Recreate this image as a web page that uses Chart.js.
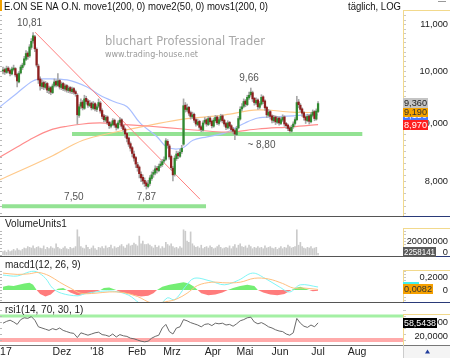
<!DOCTYPE html>
<html><head><meta charset="utf-8">
<script src="https://cdn.jsdelivr.net/npm/chart.js@4.4.0/dist/chart.umd.min.js"></script>
<style>html,body{margin:0;padding:0;background:#fff}canvas{display:block}</style>
</head><body>
<canvas id="c" width="450" height="358"></canvas>
<script>
// ---------------- DATA ----------------
const monthLabels = ["'17","Dez","'18","Feb","Mrz","Apr","Mai","Jun","Jul","Aug"];
const monthIdx    = [1.1, 33.3, 53.1, 75.7, 95.5, 118.6, 136.7, 156.5, 178, 200];

const opens = [10.00,10.03,9.97,10.06,10.01,9.94,10.03,10.05,9.93,9.78,9.96,10.07,10.13,10.24,10.37,10.31,10.49,10.63,10.72,10.45,
10.10,9.84,9.69,9.77,9.67,9.75,9.61,9.67,9.57,9.71,9.79,9.71,9.81,9.67,9.75,9.64,9.71,9.61,9.67,9.59,
9.65,9.59,9.52,9.14,9.31,9.39,9.27,9.46,9.41,9.32,9.37,9.27,9.36,9.25,9.31,9.37,9.23,9.13,9.05,9.11,
9.01,8.94,8.97,9.05,8.97,8.91,9.01,9.06,8.95,8.89,8.81,8.73,8.63,8.56,8.45,8.39,8.27,8.23,8.11,8.06,
8.01,7.97,7.91,7.96,8.04,8.11,8.13,8.21,8.17,8.25,8.27,8.33,8.36,8.67,8.59,8.41,8.21,8.11,8.37,8.46,
8.41,8.49,8.62,9.33,9.24,9.29,9.19,9.11,9.16,9.06,8.97,9.03,8.93,8.87,9.01,9.06,8.97,9.09,9.03,8.94,
9.04,9.11,8.99,9.05,9.13,9.05,8.99,8.91,9.01,8.95,8.89,8.86,8.79,8.91,9.07,9.26,9.31,9.41,9.34,9.47,
9.53,9.57,9.46,9.37,9.43,9.29,9.35,9.49,9.41,9.29,9.14,9.21,9.13,9.04,9.11,9.01,9.09,8.99,9.05,9.11,
8.99,8.96,8.91,8.85,8.93,8.99,9.06,9.39,9.33,9.26,9.19,9.11,9.04,9.13,9.02,9.14,9.21,9.07,9.21];
const highs = [10.08,10.06,10.10,10.09,10.04,10.08,10.12,10.07,9.96,9.99,10.12,10.16,10.30,10.42,10.40,10.55,10.68,10.81,10.75,10.48,
10.14,9.88,9.82,9.80,9.79,9.77,9.70,9.69,9.74,9.84,9.82,9.95,9.83,9.78,9.77,9.74,9.73,9.70,9.69,9.68,
9.67,9.62,9.55,9.34,9.45,9.42,9.52,9.50,9.44,9.42,9.39,9.40,9.38,9.34,9.45,9.40,9.26,9.16,9.14,9.13,
9.03,9.02,9.08,9.07,8.99,9.04,9.10,9.08,8.97,8.91,8.83,8.75,8.66,8.58,8.50,8.41,8.31,8.25,8.15,8.10,
8.05,8.00,8.01,8.09,8.15,8.18,8.25,8.24,8.28,8.33,8.36,8.40,8.72,8.70,8.62,8.43,8.24,8.42,8.50,8.49,
8.53,8.60,9.45,9.38,9.35,9.31,9.22,9.20,9.18,9.08,9.07,9.05,8.95,9.04,9.10,9.08,9.12,9.11,9.05,9.09,
9.14,9.13,9.10,9.16,9.15,9.07,9.01,9.04,9.03,8.97,8.92,8.88,8.94,9.12,9.30,9.36,9.45,9.44,9.52,9.58,
9.66,9.60,9.48,9.47,9.45,9.40,9.53,9.51,9.43,9.31,9.25,9.23,9.15,9.14,9.13,9.12,9.11,9.10,9.15,9.13,
9.01,8.98,8.93,8.96,9.02,9.10,9.50,9.44,9.36,9.28,9.21,9.13,9.16,9.15,9.19,9.24,9.23,9.26,9.40];
const lows = [9.94,9.93,9.95,9.96,9.90,9.92,10.00,9.88,9.68,9.76,9.94,10.03,10.10,10.21,10.24,10.28,10.45,10.58,10.40,10.08,
9.75,9.62,9.65,9.63,9.64,9.57,9.55,9.53,9.55,9.68,9.68,9.69,9.64,9.63,9.61,9.60,9.58,9.57,9.56,9.55,
9.54,9.50,8.98,9.10,9.27,9.24,9.25,9.35,9.29,9.30,9.24,9.25,9.22,9.21,9.28,9.18,9.08,9.02,9.02,8.97,
8.90,8.91,8.95,8.92,8.87,8.89,8.98,8.90,8.84,8.74,8.66,8.58,8.50,8.40,8.33,8.22,8.16,8.05,7.99,7.95,
7.91,7.87,7.89,7.93,8.01,8.06,8.10,8.13,8.15,8.22,8.24,8.30,8.34,8.55,8.36,8.18,8.00,8.08,8.34,8.37,
8.39,8.46,8.60,9.20,9.21,9.14,9.07,9.08,9.01,8.94,8.95,8.88,8.84,8.85,8.98,8.94,8.95,8.98,8.91,8.92,
9.01,8.97,8.96,9.02,9.00,8.94,8.88,8.89,8.90,8.84,8.80,8.70,8.77,8.89,9.05,9.22,9.28,9.30,9.32,9.44,
9.50,9.40,9.33,9.34,9.25,9.26,9.33,9.36,9.23,9.10,9.11,9.07,9.00,9.01,8.97,8.99,8.96,8.97,9.02,8.94,
8.90,8.86,8.82,8.83,8.90,8.96,9.04,9.28,9.20,9.12,9.05,8.99,9.02,8.98,9.00,9.11,9.04,9.05,9.19];
const closes = [10.02,9.98,10.05,10.00,9.95,10.04,10.06,9.92,9.80,9.95,10.08,10.12,10.25,10.36,10.30,10.50,10.62,10.74,10.46,10.12,
9.82,9.70,9.76,9.68,9.74,9.62,9.66,9.58,9.70,9.78,9.72,9.80,9.68,9.74,9.65,9.70,9.62,9.66,9.60,9.64,
9.58,9.55,9.15,9.30,9.38,9.28,9.45,9.40,9.33,9.36,9.28,9.35,9.26,9.30,9.38,9.22,9.12,9.06,9.10,9.00,
8.95,8.98,9.04,8.96,8.92,9.00,9.05,8.94,8.88,8.80,8.72,8.62,8.55,8.46,8.38,8.28,8.22,8.12,8.05,8.00,
7.96,7.92,7.95,8.05,8.10,8.14,8.20,8.18,8.24,8.28,8.32,8.35,8.68,8.60,8.40,8.22,8.10,8.38,8.45,8.42,
8.48,8.55,9.32,9.25,9.28,9.18,9.12,9.15,9.05,8.98,9.02,8.92,8.88,9.00,9.05,8.98,9.08,9.02,8.95,9.05,
9.10,9.00,9.06,9.12,9.04,8.98,8.92,9.00,8.94,8.88,8.85,8.80,8.90,9.08,9.25,9.30,9.40,9.35,9.48,9.52,
9.58,9.45,9.38,9.42,9.30,9.36,9.48,9.40,9.28,9.15,9.20,9.12,9.05,9.10,9.02,9.08,9.00,9.06,9.10,8.98,
8.95,8.90,8.86,8.92,8.98,9.06,9.38,9.34,9.25,9.18,9.10,9.05,9.12,9.03,9.15,9.20,9.08,9.22,9.36];
// volume in millions of units
const volumes = [5,6,4,7,5,6,8,6,9,7,6, 8,10,9,12,11,10,13,9,11,12, 10,9,13,8,11,9,12,10,9,16,
11,9,8,10,12,9,8,11,9,10,12, 36,26, 12,10,9,14,11,8,10,13,9,7,11,10,
12,9,13,10,11,14,9,12,10,11,13,15,12,10,14,16,13, 14,17,15,13,27,16,20,15,15,16,14,
12,10,14,11,13,9,12,10,18,15,13,16,12,10,11,9,12,10, 36,34,20,18,33,16,
13,11,12,10,14,9,11,12,10,13,11,9,10,12,14,11,9,10, 11,10,13,9,12,15,10,14,16,12,11,13,10,14,12,
9,11,10,12,10,11,9,13,10,11,12,10,9,11,8,10,12,9,11,10,14,12,10,11, 12,36,
14,18,12,10,9,11,10,12,9,10,11, 2.258141];
// moving averages [day index, value]
const move1 = [[-1.7,8.40],[8,8.57],[16.9,8.73],[26.6,8.87],[36.2,8.94],[45.2,8.98],[54.8,9.00],[64.4,8.98],[83.1,8.94],[101.7,8.89],[120.9,8.84],[130,8.84],[144.1,8.89],[163.3,8.93],[178,8.97]];
const move2 = [[-1.7,9.30],[7.9,9.56],[16.9,9.80],[22.6,9.84],[36.2,9.82],[47.5,9.68],[54.8,9.52],[63.3,9.39],[70.1,9.30],[77.4,9.00],[87,8.75],[92.7,8.57],[101.1,8.55],[107.3,8.69],[115.3,8.75],[125.4,8.82],[136.7,9.00],[144.1,9.09],[153.7,9.11],[172.3,9.15],[178,9.15]];
const movs1 = [[-1.7,8.02],[26.6,8.40],[45.2,8.69],[64.4,8.84],[83.1,8.96],[101.7,9.07],[120.9,9.13],[125.4,9.15],[144.1,9.24],[163.3,9.20],[178,9.19]];
// drawn trend line and support levels
const trendLine = [[18.1,10.82],[111.3,7.71]];
const support1 = [[39,8.80],[203,8.80]];
const support2 = [[-0.6,7.60],[114.7,7.60]];
const priceNotes = [["10,81",15,10.81],["9,66",139,9.66],["7,50",40,7.50],["7,87",81,7.50],["~ 8,80",146,8.80]];
const priceTicks = [11,10,9,8];
const priceTickLabels = ["11,000","10,000","9,000","8,000"];
// MACD
const macdLine = [[0,0.23],[8,0.215],[15,0.28],[19,0.28],[24,0.18],[28,0.03],[33,-0.05],[42,-0.09],[46,-0.06],[55,-0.02],[63,-0.02],[71,-0.08],[77,-0.2],[83,-0.28],[89,-0.22],[93,-0.12],[97,-0.15],[103,0.05],[108,0.18],[117,0.14],[125,0.08],[133,0.15],[141,0.26],[148,0.18],[156,0.05],[162,-0.03],[168,0.08],[178,0.046]];
const macdSignal = [[0,0.26],[8,0.24],[15,0.25],[20,0.27],[26,0.22],[32,0.12],[38,0.03],[44,-0.05],[52,-0.05],[60,-0.03],[68,-0.04],[76,-0.10],[84,-0.20],[92,-0.18],[98,-0.14],[104,-0.05],[110,0.07],[118,0.12],[126,0.11],[134,0.12],[142,0.18],[150,0.17],[158,0.10],[164,0.03],[170,0.03],[178,0.0082]];
const macdHist = [[0,0.05],[3,0.07],[6,0.06],[9,0.08],[12,0.10],[15,0.11],[17,0.08],[19,0],[21,-0.06],[24,-0.10],[27,-0.07],[29,-0.02],[31,0.02],[34,0.03],[36,0],[38,-0.04],[42,-0.08],[46,-0.06],[50,-0.05],[53,-0.02],[55,0],[57,0.03],[60,0.04],[62,0.02],[64,0],[66,-0.03],[70,-0.05],[74,-0.08],[78,-0.10],[82,-0.09],[85,-0.05],[87,0],[90,0.05],[94,0.08],[98,0.10],[102,0.12],[105,0.10],[108,0.05],[110,0],[112,-0.05],[116,-0.08],[120,-0.07],[124,-0.04],[127,0],[130,0.03],[134,0.06],[138,0.08],[142,0.06],[144,0],[147,-0.04],[151,-0.07],[155,-0.08],[159,-0.06],[163,0],[165,0.03],[168,0.05],[171,0.02],[173,0],[175,-0.02],[178,-0.01]];
const macdTicks = [0.2, 0];
const macdTickLabels = ["0,2000","0"];
// RSI, one value every second trading day
const rsi = [58,61,63,60,56,64,67,66,69,63,52,50,48,46,49,47,50,46,44,42,41,34,42,40,38,40,42,43,39,38,
36,40,35,39,37,36,33,32,30,28,27,28,33,36,38,50,56,44,40,50,52,64,62,59,57,55,52,56,57,54,
58,57,58,55,56,53,57,62,64,67,68,60,57,59,56,52,50,47,45,44,40,38,42,66,58,53,51,55,52,58.5438];
const rsiLevels = [70, 30];

// ---------------- LAYOUT ----------------
const TOP = 10, BOTTOM = 345, RIGHT = 403;
const PX_PER_DAY = 1.77, X0 = 3;
const XMIN = -X0 / PX_PER_DAY, XMAX = XMIN + RIGHT / PX_PER_DAY;
function logRange(v, y, pxPerLn) { const hi = Math.log(v) + (y - TOP) / pxPerLn; return [Math.exp(hi - (BOTTOM - TOP) / pxPerLn), Math.exp(hi)]; }
function linRange(v1, y1, v2, y2) { const k = (v2 - v1) / (y1 - y2); return [v1 - (BOTTOM - y1) * k, v1 + (y1 - TOP) * k]; }
const PR = logRange(11, 24, 493);
const VR = linRange(0, 255, 20, 241);
const MR = linRange(0, 290, 0.2, 277);
const RR = linRange(30, 340, 70, 316);
const SANS = '"Liberation Sans", Arial, sans-serif';

const pairs = a => a.map(p => ({x: p[0], y: p[1]}));
const lineDs = (data, axis, color, w, order, extra) => Object.assign({type:'line', data: pairs(data), yAxisID: axis, borderColor: color, borderWidth: w, pointRadius: 0, tension: 0.35, order, fill:false}, extra || {});

const datasets = [
  lineDs(support1, 'yP', '#93e293', 4, 9, {tension:0}),
  lineDs(support2, 'yP', '#93e293', 4, 9, {tension:0}),
  lineDs(move1, 'yP', '#ff8c8c', 1.2, 6),
  lineDs(movs1, 'yP', '#ffc98a', 1.2, 6),
  lineDs(move2, 'yP', '#a9bfff', 1.2, 6),
  lineDs(trendLine, 'yP', '#ff8080', 1, 5, {tension:0}),
  {type:'bar', yAxisID:'yP', order:3, grouped:false, barThickness:1, backgroundColor:'#a8a8a8',
   data: closes.map((c,i)=>({x:i, y:[lows[i], highs[i]]}))},
  {type:'bar', yAxisID:'yP', order:2, grouped:false, barThickness:1.6, minBarLength:1,
   backgroundColor: closes.map((c,i)=> c >= opens[i] ? '#2f8a2f' : '#8f1f1f'),
   data: closes.map((c,i)=>({x:i, y:[opens[i], c]}))},
  {type:'bar', yAxisID:'yV', order:2, grouped:false, barThickness:1, backgroundColor:'#cbcbcb',
   data: volumes.map((v,i)=>({x:i, y:v}))},
  lineDs(macdHist, 'yM', 'rgba(0,0,0,0)', 0, 7, {tension:0, fill:{target:{value:0}, above:'#74ee74', below:'#ff7c7c'}}),
  lineDs(macdSignal, 'yM', '#ffc080', 1, 4, {clip:{left:0,right:0,top:-(259-TOP),bottom:-(BOTTOM-302)}}),
  lineDs(macdLine, 'yM', '#7ff6f6', 1, 4, {clip:{left:0,right:0,top:-(259-TOP),bottom:-(BOTTOM-302)}}),
  lineDs([[XMIN,rsiLevels[0]],[XMAX,rsiLevels[0]]], 'yR', '#a4f0a4', 3, 8, {tension:0}),
  lineDs([[XMIN,rsiLevels[1]],[XMAX,rsiLevels[1]]], 'yR', '#ffaaaa', 4, 8, {tension:0}),
  lineDs(rsi.map((v,k)=>[k*2, v]), 'yR', '#6a6a6a', 1, 4, {tension:0}),
];

function fitText(c, s, x, y, w, size, color, font, align) {
  c.save(); c.font = size + 'px ' + (font || SANS); c.fillStyle = color; c.textBaseline = 'middle'; c.textAlign = 'left';
  const m = c.measureText(s).width; const k = w ? w / m : 1;
  const x0 = align === 'right' ? x - m * k : align === 'center' ? x - m * k / 2 : x;
  c.translate(x0, y); c.scale(k, 1); c.fillText(s, 0, 0); c.restore();
}
function badge(c, s, yc, bg, fg, w) { c.fillStyle = bg; c.fillRect(403, Math.round(yc - 5), w, 10); fitText(c, s, 404, Math.round(yc - 5) + 5.5, w - 2, 9.5, fg); }
function hline(c, x1, x2, y, col, lw) { c.strokeStyle = col; c.lineWidth = lw || 1; c.beginPath(); c.moveTo(x1, y); c.lineTo(x2, y); c.stroke(); }
function vline(c, x, y1, y2, col) { c.strokeStyle = col; c.lineWidth = 1; c.beginPath(); c.moveTo(x, y1); c.lineTo(x, y2); c.stroke(); }

const deco = {
  id: 'deco',
  beforeDraw(chart) {
    const c = chart.ctx; c.save();
    c.fillStyle = '#fff'; c.fillRect(0, 0, 450, 358);
    fitText(c, 'bluchart Professional Trader', 105, 42, 160, 13, '#a9a9a9', '"DejaVu Sans", sans-serif');
    fitText(c, 'www.trading-house.net', 105, 55, 93, 9.5, '#9a9a9a', '"DejaVu Sans", sans-serif');
    c.restore();
  },
  afterDraw(chart) {
    const c = chart.ctx, s = chart.scales; c.save();
    // minor ticks along panel edges
    for (let v = 7.5; v <= 11.3; v += 0.1) { const y = Math.round(s.yP.getPixelForValue(v)) + 0.5; if (y > 12 && y < 215) { hline(c, 0, 2, y, '#b8b8b8'); hline(c, 403, 406, y, '#c8c8c8'); } }
    for (let v = 0; v <= 40; v += 5) { const y = Math.round(s.yV.getPixelForValue(v)) + 0.5; if (y > 228) { hline(c, 0, 2, y, '#b8b8b8'); hline(c, 403, 406, y, '#c8c8c8'); } }
    for (let v = -0.15; v <= 0.3; v += 0.05) { const y = Math.round(s.yM.getPixelForValue(v)) + 0.5; if (y > 270 && y < 301) { hline(c, 0, 2, y, '#b8b8b8'); hline(c, 403, 406, y, '#c8c8c8'); } }
    for (let v = 30; v <= 90; v += 10) { const y = Math.round(s.yR.getPixelForValue(v)) + 0.5; if (y > 306 && y < 344) { hline(c, 0, 2, y, '#b8b8b8'); hline(c, 403, 406, y, '#c8c8c8'); } }
    // panel separators
    hline(c, 0, 403, 216.5, '#555'); hline(c, 403, 450, 216.5, '#2a3a78');
    hline(c, 0, 403, 256.5, '#555'); hline(c, 403, 450, 256.5, '#2a3a78');
    hline(c, 0, 403, 302.5, '#555'); hline(c, 403, 450, 302.5, '#2a3a78');
    hline(c, 0, 450, 345.5, '#777');
    // right axis cells (yellow borders)
    const Y = '#f2d98c';
    hline(c, 403, 450, 10.5, Y); vline(c, 403.5, 10, 216, Y);
    hline(c, 403, 450, 228.5, Y); vline(c, 403.5, 228, 256, Y);
    hline(c, 403, 450, 270.5, Y); vline(c, 403.5, 270, 302, Y);
    hline(c, 403, 450, 314.5, Y); vline(c, 403.5, 314, 345, Y);
    // price axis labels
    priceTicks.forEach((v, k) => fitText(c, priceTickLabels[k], 448, s.yP.getPixelForValue(v), null, 9.3, '#222', null, 'right'));
    // badges price
    const last = closes.length - 1;
    badge(c, '9,150', s.yP.getPixelForValue(move2[move2.length-1][1]), '#4a78ff', '#fff', 25);
    badge(c, '9,190', s.yP.getPixelForValue(movs1[movs1.length-1][1]) - 1, '#f5a300', '#333', 25);
    badge(c, closes[last].toFixed(3).replace('.', ','), s.yP.getPixelForValue(closes[last]) - 1, '#c4c4c4', '#222', 25);
    badge(c, move1[move1.length-1][1].toFixed(3).replace('.', ','), s.yP.getPixelForValue(move1[move1.length-1][1]), '#ff1e1e', '#fff', 25);
    // volume axis
    fitText(c, '20000000', 448, s.yV.getPixelForValue(20), null, 9.3, '#222', null, 'right');
    fitText(c, '0', 448, s.yV.getPixelForValue(0) - 3, null, 9.3, '#222', null, 'right');
    badge(c, String(Math.round(volumes[last] * 1e6)), s.yV.getPixelForValue(0) - 3, '#5a5a5a', '#fff', 33);
    // macd axis
    macdTicks.forEach((v, k) => fitText(c, macdTickLabels[k], 448, s.yM.getPixelForValue(v), null, 9.3, '#222', null, 'right'));
    badge(c, '', s.yM.getPixelForValue(macdLine[macdLine.length-1][1]), '#40f0f0', '#000', 16);
    badge(c, '0,0082', s.yM.getPixelForValue(macdSignal[macdSignal.length-1][1]), '#f5a000', '#333', 30);
    // rsi axis
    fitText(c, '80,0000', 448, 322, null, 9.3, '#222', null, 'right');
    fitText(c, '20,0000', 448, 336, null, 9.3, '#222', null, 'right');
    badge(c, rsi[rsi.length-1].toFixed(4).replace('.', ','), s.yR.getPixelForValue(rsi[rsi.length-1]), '#000', '#fff', 34);
    // panel titles
    fitText(c, 'VolumeUnits1', 5, 224, null, 10, '#222');
    fitText(c, 'macd1(12, 26, 9)', 5, 265, null, 10, '#222');
    fitText(c, 'rsi1(14, 70, 30, 1)', 5, 310, null, 10, '#222');
    // chart title
    c.fillStyle = '#f0a000'; c.fillRect(0, 0, 2, 11);
    fitText(c, 'E.ON SE NA O.N. move1(200, 0) move2(50, 0) movs1(200, 0)', 4, 7, 264, 10, '#111');
    fitText(c, 't\u00e4glich, LOG', 348, 7, 53, 10, '#111');
    hline(c, 438, 446, 1.5, '#999');
    // price notes
    const noteDy = {"10,81": -9, "9,66": -10, "~ 8,80": 11};
    priceNotes.forEach(n => {
      const x = s.x.getPixelForValue(n[1]);
      const y = (n[0] === '7,50' || n[0] === '7,87') ? 197 : s.yP.getPixelForValue(n[2]) + noteDy[n[0]];
      fitText(c, n[0], x, y, null, 10, '#555', null, 'center');
    });
    // x axis labels
    monthLabels.forEach((m, k) => fitText(c, m, s.x.getPixelForValue(monthIdx[k]), 352, null, 10.5, '#222', null, 'center'));
    // bottom-right cell
    c.fillStyle = '#f4f4f4'; c.fillRect(404, 346, 46, 12);
    vline(c, 403.5, 345, 358, '#ccc');
    c.fillStyle = '#203c9c'; c.beginPath(); c.moveTo(425, 353.5); c.lineTo(430, 353.5); c.lineTo(427.5, 349.5); c.closePath(); c.fill();
    c.restore();
  }
};

new Chart(document.getElementById('c'), {
  type: 'line',
  data: { datasets },
  options: {
    responsive: false, animation: false, events: [], devicePixelRatio: 1,
    layout: { padding: { left: 0, right: 450 - RIGHT, top: TOP, bottom: 358 - BOTTOM } },
    plugins: { legend: { display: false }, tooltip: { enabled: false } },
    scales: {
      x:  { type: 'linear', display: false, min: XMIN, max: XMAX, offset: false, bounds: 'data' },
      yP: { type: 'logarithmic', display: false, position: 'right', min: PR[0], max: PR[1], bounds: 'data' },
      yV: { type: 'linear', display: false, position: 'right', min: VR[0], max: VR[1], bounds: 'data' },
      yM: { type: 'linear', display: false, position: 'right', min: MR[0], max: MR[1], bounds: 'data' },
      yR: { type: 'linear', display: false, position: 'right', min: RR[0], max: RR[1], bounds: 'data' }
    }
  },
  plugins: [deco]
});
</script>
</body></html>
